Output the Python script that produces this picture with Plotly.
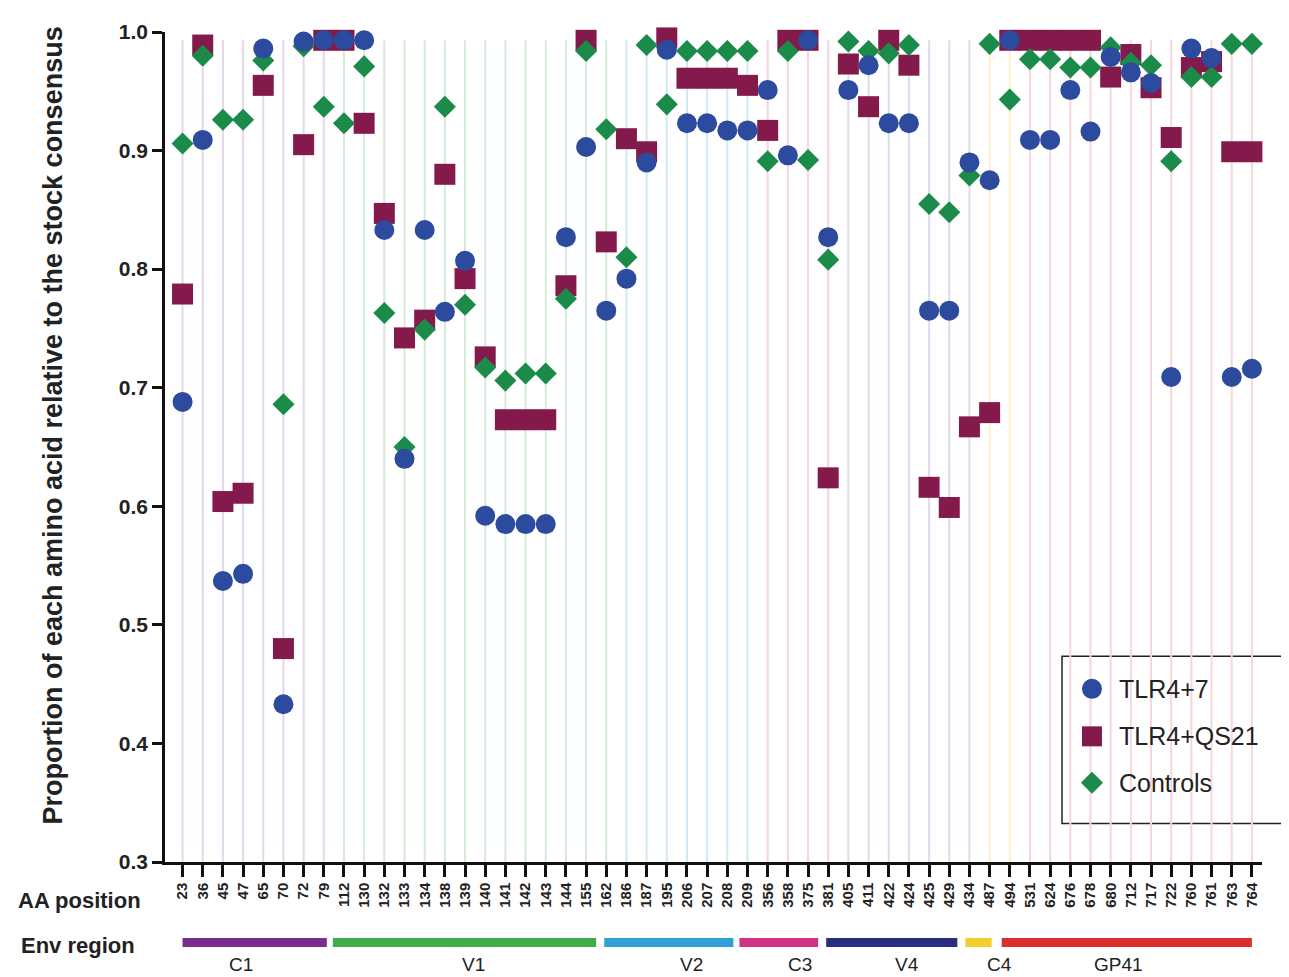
import plotly.graph_objects as go

positions = ["23","36","45","47","65","70","72","79","112","130","132","133","134","138","139","140",
             "141","142","143","144","155","162","186","187","195","206","207","208","209","356","358",
             "375","381","405","411","422","424","425","429","434","487","494","531","624","676","678",
             "680","712","717","722","760","761","763","764"]

tlr47 = [0.688,0.909,0.537,0.543,0.986,0.433,0.992,0.993,0.993,0.993,0.833,0.640,0.833,0.764,0.807,0.592,
         0.585,0.585,0.585,0.827,0.903,0.765,0.792,0.890,0.985,0.923,0.923,0.917,0.917,0.951,0.896,
         0.993,0.827,0.951,0.972,0.923,0.923,0.765,0.765,0.890,0.875,0.993,0.909,0.909,0.951,0.916,
         0.979,0.966,0.957,0.709,0.986,0.978,0.709,0.716]

tlr4qs21 = [0.779,0.989,0.604,0.611,0.955,0.480,0.905,0.993,0.993,0.923,0.847,0.742,0.757,0.880,0.792,0.726,
            0.673,0.673,0.673,0.786,0.993,0.823,0.910,0.899,0.995,0.961,0.961,0.961,0.955,0.917,0.993,
            0.993,0.624,0.973,0.937,0.993,0.972,0.616,0.599,0.667,0.679,0.993,0.993,0.993,0.993,0.993,
            0.962,0.981,0.953,0.911,0.970,0.975,0.899,0.899]

controls = [0.906,0.980,0.926,0.926,0.976,0.686,0.988,0.937,0.923,0.971,0.763,0.650,0.749,0.937,0.770,0.717,
            0.706,0.712,0.712,0.775,0.984,0.918,0.810,0.989,0.939,0.984,0.984,0.984,0.984,0.891,0.984,
            0.892,0.808,0.992,0.984,0.982,0.989,0.855,0.848,0.879,0.990,0.943,0.977,0.977,0.970,0.970,
            0.987,0.974,0.972,0.891,0.962,0.962,0.990,0.990]

series_names = ["TLR4+7", "TLR4+QS21", "Controls"]
series_colors = ["#2c4a9e", "#841a4b", "#1b8b49"]
series_symbols = ["circle", "square", "diamond"]
series_sizes = [20, 21, 17]

# Env regions: name, number of positions, drawn bar span (category units), label centre
region_names = ["C1","V1","V2","C3","V4","C4","GP41"]
region_counts = [8,14,7,4,7,2,12]
region_bar_start = [0.0,7.45,20.9,27.6,31.9,38.8,40.6]
region_bar_end = [7.15,20.5,27.3,31.5,38.4,40.1,53.0]
region_label_x = [2.9,14.4,25.2,30.6,35.9,40.5,46.4]
region_colors = ["#7b2d8e","#3fae49","#2f9fd8","#d03382","#2b2d7e","#f1d02c","#d8302e"]
region_grid_colors = ["#e6d6ec","#d6ebd6","#d3e8f3","#f5d4e0","#dcdcec","#faf1cc","#f6d6db"]

FONT = "Liberation Sans, Arial, sans-serif"
xs = list(range(len(positions)))
X_RANGE = [-0.87, 53.5]
Y_RANGE = [0.3, 1.0]

def px_x(p):  # paper fraction -> x data
    return X_RANGE[0] + p * (X_RANGE[1] - X_RANGE[0])

def px_y(p):  # paper fraction -> y data
    return Y_RANGE[0] + p * (Y_RANGE[1] - Y_RANGE[0])

fig = go.Figure()

# draw order: squares, diamonds, circles on top
order = [1, 2, 0]
series_vals = [tlr47, tlr4qs21, controls]
for i in order:
    fig.add_trace(go.Scatter(x=xs, y=series_vals[i], mode="markers", name=series_names[i],
                             showlegend=False,
                             marker=dict(symbol=series_symbols[i], size=series_sizes[i],
                                         color=series_colors[i], line=dict(width=0)),
                             cliponaxis=False))

# hand-drawn legend box
leg_x0, leg_x1, leg_y0, leg_y1 = 0.8177, 1.04, 0.0465, 0.2479
leg_marker_x = 0.845
leg_text_x = 0.868
leg_item_y = [0.2086, 0.1514, 0.0954]
for i in range(3):
    fig.add_trace(go.Scatter(x=[px_x(leg_marker_x)], y=[px_y(leg_item_y[i])], mode="markers",
                             showlegend=False, hoverinfo="skip",
                             marker=dict(symbol=series_symbols[i], size=[20, 20, 17][i],
                                         color=series_colors[i], line=dict(width=0)),
                             cliponaxis=False))

shapes = []
annotations = []
idx = 0
for r, cnt in enumerate(region_counts):
    for k in range(cnt):
        shapes.append(dict(type="line", xref="x", yref="y", x0=idx, x1=idx, y0=0.3, y1=0.993,
                           line=dict(color=region_grid_colors[r], width=2), layer="below"))
        idx += 1
    shapes.append(dict(type="line", xref="x", yref="paper", x0=region_bar_start[r], x1=region_bar_end[r],
                       y0=-0.097, y1=-0.097, line=dict(color=region_colors[r], width=9)))
    annotations.append(dict(x=region_label_x[r], y=-0.1085, xref="x", yref="paper", text=region_names[r],
                            showarrow=False, xanchor="center", yanchor="top",
                            font=dict(family=FONT, size=19, color="#222")))

shapes.append(dict(type="rect", xref="paper", yref="paper", x0=leg_x0, x1=leg_x1, y0=leg_y0, y1=leg_y1,
                   fillcolor="white", line=dict(color="#222", width=1.5), layer="below"))
for i in range(3):
    annotations.append(dict(x=leg_text_x, y=leg_item_y[i], xref="paper", yref="paper", text=series_names[i],
                            xanchor="left", yanchor="middle", showarrow=False,
                            font=dict(family=FONT, size=25, color="#222")))

annotations.append(dict(x=-0.0775, y=-0.046, xref="paper", yref="paper", text="<b>AA position</b>",
                        xanchor="center", yanchor="middle",
                        showarrow=False, font=dict(family=FONT, size=22, color="#222")))
annotations.append(dict(x=-0.0795, y=-0.101, xref="paper", yref="paper", text="<b>Env region</b>",
                        xanchor="center", yanchor="middle",
                        showarrow=False, font=dict(family=FONT, size=22, color="#222")))
annotations.append(dict(x=-0.102, y=0.526, xref="paper", yref="paper",
                        text="<b>Proportion of each amino acid relative to the stock consensus</b>",
                        textangle=-90, showarrow=False, xanchor="center", yanchor="middle",
                        font=dict(family=FONT, size=27, color="#222")))

fig.update_layout(
    width=1289, height=977,
    margin=dict(l=157, r=35, t=15, b=123),
    paper_bgcolor="white", plot_bgcolor="white",
    shapes=shapes, annotations=annotations,
    showlegend=False,
    xaxis=dict(range=X_RANGE, tickmode="array", tickvals=xs, ticktext=positions,
               tickangle=-90, ticks="outside", ticklen=12, tickwidth=2.5, tickcolor="#111",
               showline=True, linecolor="#111", linewidth=2.5, showgrid=False, zeroline=False,
               tickfont=dict(family=FONT, size=15, color="#222", weight="bold")),
    yaxis=dict(range=Y_RANGE, tickmode="array", tickvals=[0.3,0.4,0.5,0.6,0.7,0.8,0.9,1.0],
               ticktext=["0.3","0.4","0.5","0.6","0.7","0.8","0.9","1.0"],
               ticks="outside", ticklen=10, tickwidth=2.5, tickcolor="#111",
               showline=True, linecolor="#111", linewidth=2.5, showgrid=False, zeroline=False,
               tickfont=dict(family=FONT, size=21, color="#222", weight="bold")),
)

fig.write_html("out.html")
